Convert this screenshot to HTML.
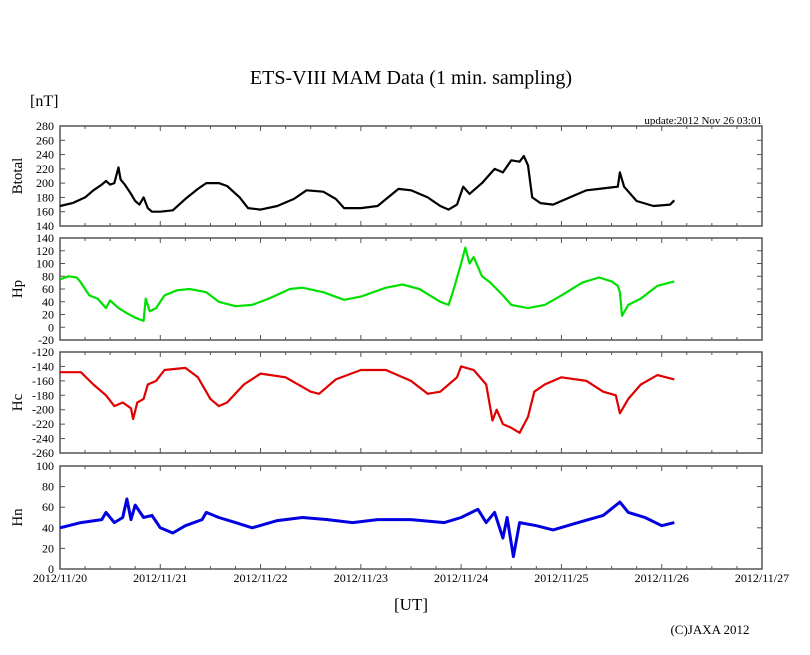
<!DOCTYPE html>
<html><head><meta charset="utf-8"><style>
body{margin:0;background:#fff}
svg{display:block;font-family:"Liberation Serif",serif}
</style></head><body>
<svg id="c" width="810" height="655">
<text x="411" y="84" font-size="20" text-anchor="middle">ETS-VIII MAM Data (1 min. sampling)</text>
<text x="30" y="106" font-size="16">[nT]</text>
<text x="762" y="124" font-size="11" text-anchor="end">update:2012 Nov 26 03:01</text>
<text x="411" y="610" font-size="17" text-anchor="middle">[UT]</text>
<text x="710" y="634" font-size="13" text-anchor="middle">(C)JAXA 2012</text>
<g id="g"></g>
</svg>
<script>
const xLabels=["2012/11/20","2012/11/21","2012/11/22","2012/11/23","2012/11/24","2012/11/25","2012/11/26","2012/11/27"];
const btT=[0,3,6,8,10,11,12,13,14,14.5,15.5,17,18,19,20,21,22,24,27,30,33,35,38,40,43,45,48,52,56,59,63,66,68,72,76,81,84,88,91,93,95,96.5,98,101,104,106,108,110,111,112,113,115,118,122,126,129,132,133.5,134,135,138,142,146,147];
const btV=[168,172,180,190,198,203,198,200,222,205,198,185,175,170,180,165,160,160,162,178,192,200,200,196,180,165,163,168,178,190,188,178,165,165,168,192,190,180,168,163,170,195,185,200,220,215,232,230,238,225,180,172,170,180,190,192,194,195,215,195,175,168,170,176];
const hpT=[0,2,4,5,7,9,11,12,14,16,18,20,20.5,21.5,23,25,28,31,35,38,42,46,50,55,58,63,68,72,78,82,86,91,93,94,96,97,98,99,101,103,106,108,112,116,120,125,129,132,133.5,134,134.5,136,139,143,147];
const hpV=[75,80,78,70,50,45,30,42,30,22,15,10,45,25,30,50,58,60,55,40,33,35,45,60,62,55,43,48,62,67,60,40,35,55,100,125,100,110,80,70,50,35,30,35,50,70,78,72,65,55,18,35,45,65,72];
const hcT=[0,5,8,11,13,15,17,17.5,18.5,20,21,23,25,30,33,36,38,40,44,48,54,60,62,66,72,78,84,88,91,95,96,99,102,103.5,104.5,106,108,110,112,113.5,116,120,126,130,133,134,136,139,143,147];
const hcV=[-148,-148,-165,-180,-195,-190,-198,-213,-190,-185,-165,-160,-145,-142,-155,-185,-195,-190,-165,-150,-155,-175,-178,-158,-145,-145,-160,-178,-175,-155,-140,-145,-165,-215,-200,-220,-225,-232,-210,-175,-165,-155,-160,-175,-180,-205,-185,-165,-152,-158];
const hnT=[0,5,10,11,13,15,16,17,18,20,22,24,27,30,34,35,38,42,46,52,58,64,70,76,84,92,96,100,102,104,106,107,108.5,110,114,118,124,130,134,136,140,144,147];
const hnV=[40,45,48,55,45,50,68,48,62,50,52,40,35,42,48,55,50,45,40,47,50,48,45,48,48,45,50,58,45,55,30,50,12,45,42,38,45,52,65,55,50,42,45];
const panels=[
 {name:"btotal",title:"Btotal",top:126,bot:226,min:140,max:280,step:20,color:"#000",t:btT,v:btV,w:2.2},
 {name:"hp",title:"Hp",top:238,bot:340,min:-20,max:140,step:20,color:"#00e000",t:hpT,v:hpV,w:2.2},
 {name:"hc",title:"Hc",top:352,bot:453,min:-260,max:-120,step:20,color:"#e00000",t:hcT,v:hcV,w:2.2},
 {name:"hn",title:"Hn",top:466,bot:569,min:0,max:100,step:20,color:"#0000e0",t:hnT,v:hnV,w:3}
];
const L=60,R=762,NS="http://www.w3.org/2000/svg";
const g=document.getElementById('g');
const xs=h=>L+(R-L)*h/168;
function mk(tag,attrs,parent){const e=document.createElementNS(NS,tag);for(const k in attrs)e.setAttribute(k,attrs[k]);(parent||g).appendChild(e);return e;}
panels.forEach((p,pi)=>{
 const ys=v=>p.bot-(v-p.min)/(p.max-p.min)*(p.bot-p.top);
 const grp=mk('g',{});
 
 
 const fr=mk('rect',{x:L,y:p.top,width:R-L,height:p.bot-p.top,fill:'none',stroke:'#555','stroke-width':1.5},grp);
 
 
 for(let v=p.min;v<=p.max;v+=p.step){
  const y=ys(v);
  mk('line',{x1:L,x2:L+5,y1:y,y2:y,stroke:'#555'},grp);
  mk('line',{x1:R,x2:R-5,y1:y,y2:y,stroke:'#555'},grp);
  const tx=mk('text',{x:L-6,y:y+4,'font-size':12,'text-anchor':'end'},grp);
  tx.textContent=v;
  
  
 }
 for(let h=0;h<=168;h+=6){
  const x=xs(h),len=h%24==0?5:3;
  mk('line',{x1:x,x2:x,y1:p.bot,y2:p.bot-len,stroke:'#555'},grp);
  mk('line',{x1:x,x2:x,y1:p.top,y2:p.top+len,stroke:'#555'},grp);
 }
 const yt=mk('text',{x:0,y:0,'font-size':15,'text-anchor':'middle',transform:`translate(22,${(p.top+p.bot)/2}) rotate(-90)`},grp);
 yt.textContent=p.title;
 
 
 const d=p.t.map((t,i)=>(i?'L':'M')+xs(t).toFixed(1)+','+ys(p.v[i]).toFixed(1)).join('');
 const ln=mk('path',{d:d,fill:'none',stroke:p.color,'stroke-width':p.w,'stroke-linejoin':'round'},grp);
 
 
});
xLabels.forEach((s,i)=>{
 const t=mk('text',{x:xs(i*24),y:582,'font-size':12,'text-anchor':'middle'});
 t.textContent=s;
 
 
});
</script>
</body></html>
